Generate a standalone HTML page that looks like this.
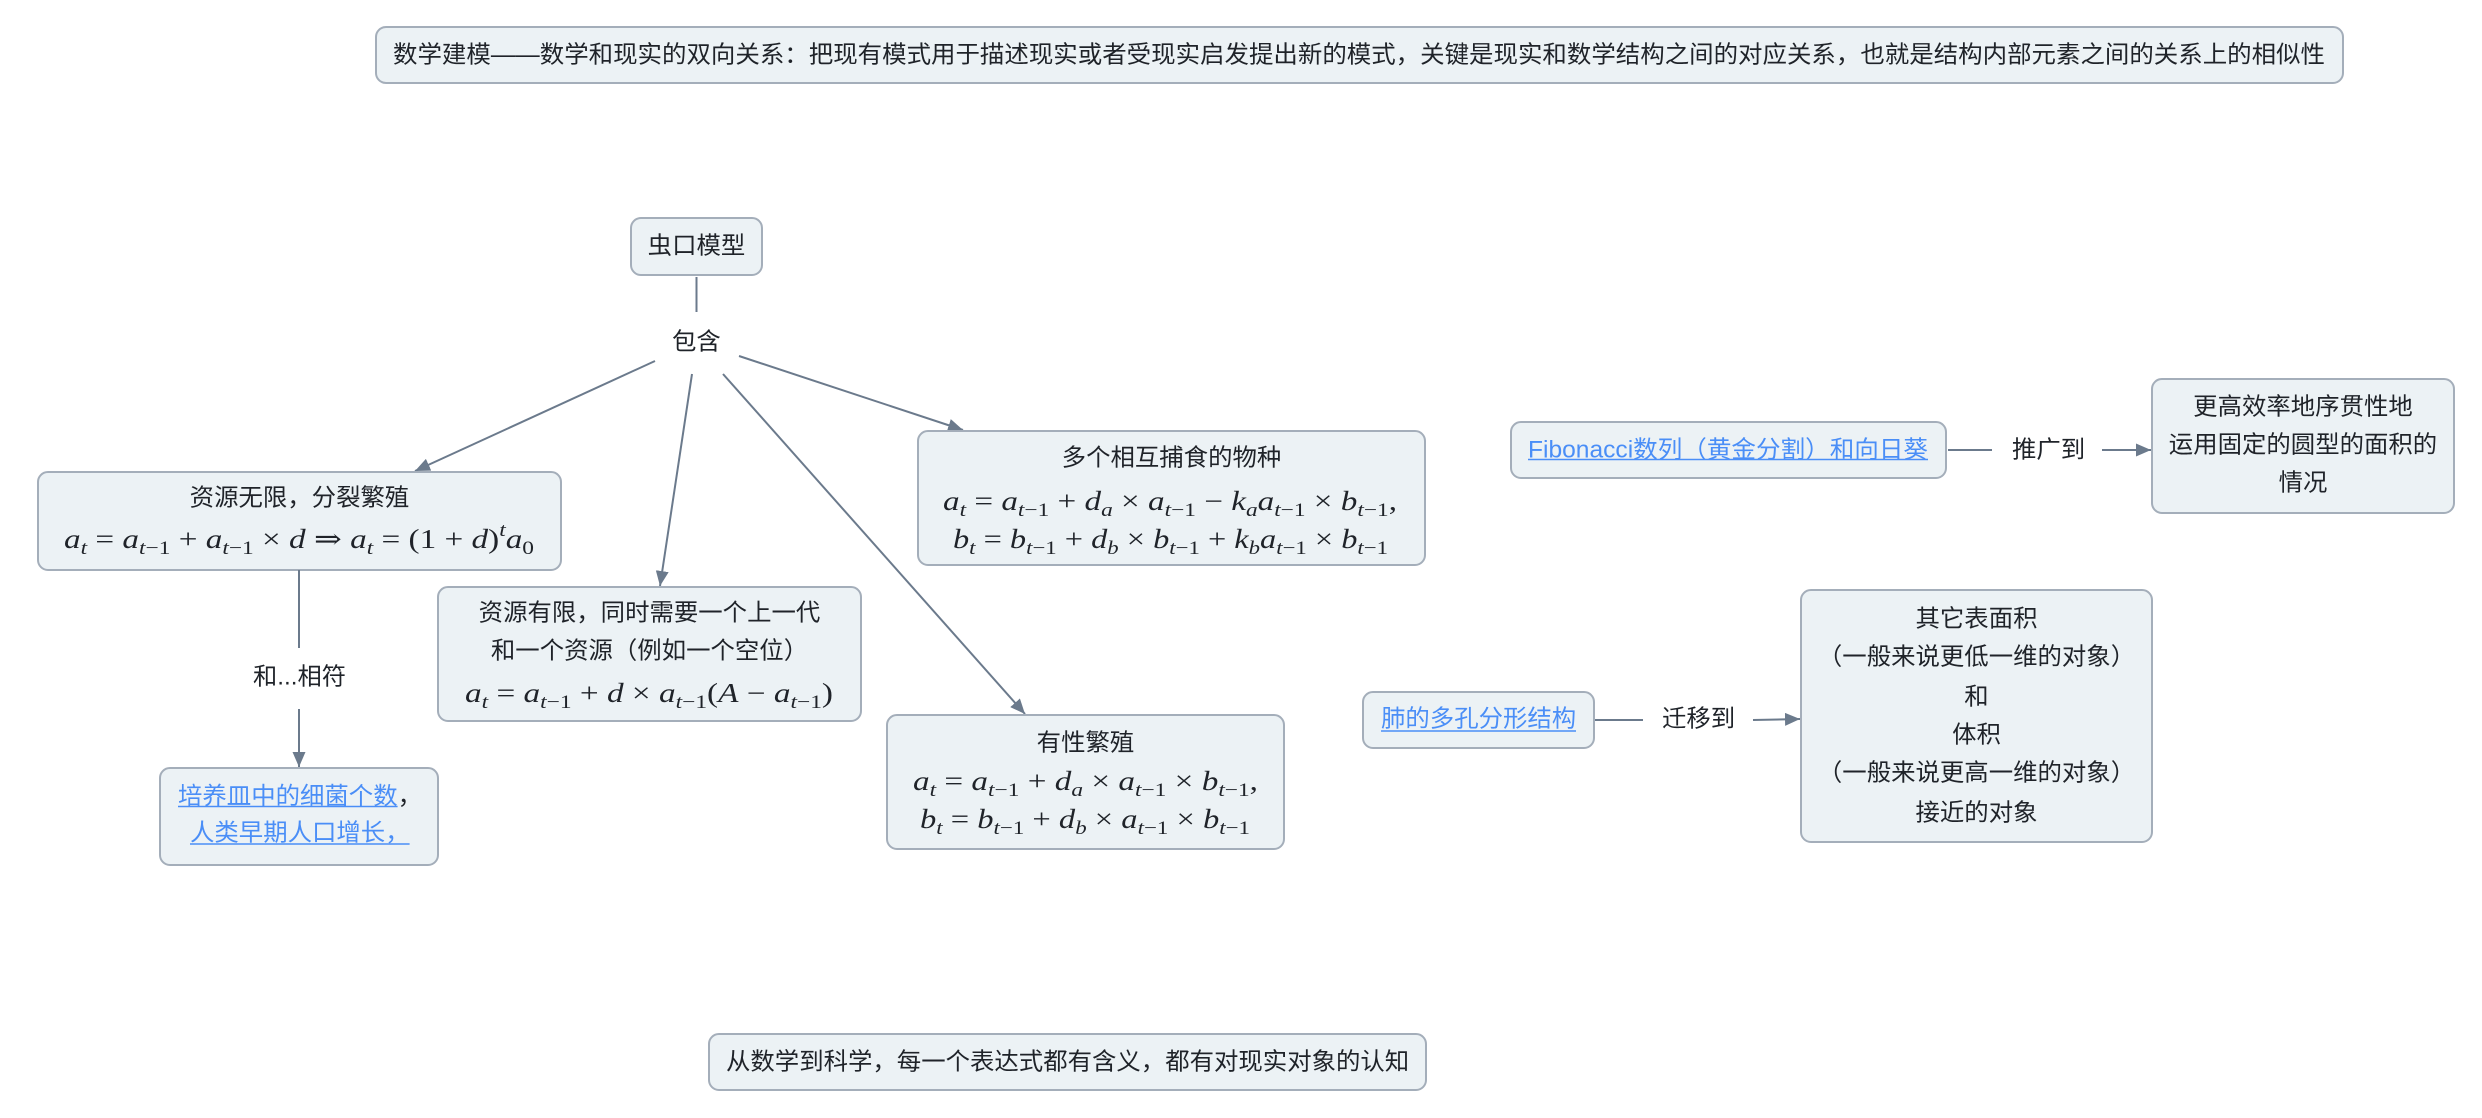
<!DOCTYPE html>
<html>
<head>
<meta charset="utf-8">
<style>
  html,body{margin:0;padding:0;background:#ffffff;}
  svg{display:block;}
  .box{fill:#ecf2f5;stroke:#a4aeba;stroke-width:2;}
  .t{font-family:"Liberation Sans","Noto Sans CJK SC",sans-serif;font-size:24px;fill:#1f2329;dominant-baseline:central;white-space:pre;}
  .lk{fill:#4a8ef7;}
  .m{font-family:"Liberation Serif","DejaVu Serif",serif;font-size:27px;fill:#1f2329;white-space:pre;}
  .i{font-style:italic;}
  .s{font-size:19px;}
  .ln{stroke:#6b7a8c;stroke-width:2;fill:none;}
  .ul{stroke:#4a8ef7;stroke-width:1.6;}
</style>
</head>
<body>
<svg width="2482" height="1118" viewBox="0 0 2482 1118" xmlns="http://www.w3.org/2000/svg">
  <defs>
    <marker id="ah" markerUnits="userSpaceOnUse" markerWidth="16" markerHeight="13" refX="15" refY="6.5" orient="auto">
      <path d="M0,0 L15,6.5 L0,13 z" fill="#6b7a8c"/>
    </marker>
  </defs>

  <!-- Title -->
  <rect class="box" x="376" y="27" width="1967" height="56" rx="10"/>
  <text class="t" x="393" y="55" textLength="1932" lengthAdjust="spacingAndGlyphs">数学建模——数学和现实的双向关系：把现有模式用于描述现实或者受现实启发提出新的模式，关键是现实和数学结构之间的对应关系，也就是结构内部元素之间的关系上的相似性</text>

  <!-- 虫口模型 -->
  <rect class="box" x="631" y="218" width="131" height="57" rx="10"/>
  <text class="t" x="647.7" y="246" textLength="97.6" lengthAdjust="spacingAndGlyphs">虫口模型</text>

  <!-- connector to 包含 -->
  <line class="ln" x1="696.5" y1="277" x2="696.5" y2="312"/>
  <text class="t" x="672" y="342" textLength="48.8" lengthAdjust="spacingAndGlyphs">包含</text>

  <!-- arrows from 包含 -->
  <line class="ln" x1="655" y1="361" x2="415" y2="471" marker-end="url(#ah)"/>
  <line class="ln" x1="692" y1="374" x2="660" y2="586" marker-end="url(#ah)"/>
  <line class="ln" x1="723" y1="374" x2="1025" y2="714" marker-end="url(#ah)"/>
  <line class="ln" x1="739" y1="356" x2="963" y2="430" marker-end="url(#ah)"/>

  <!-- 资源无限 -->
  <rect class="box" x="38" y="472" width="523" height="98" rx="10"/>
  <text class="t" x="189.7" y="498" textLength="219.6" lengthAdjust="spacingAndGlyphs">资源无限，分裂繁殖</text>
  <text class="m" x="64" y="548" textLength="470" lengthAdjust="spacingAndGlyphs"><tspan class="i">a</tspan><tspan dy="6" class="s i">t</tspan><tspan dy="-6"> = </tspan><tspan class="i">a</tspan><tspan dy="6" class="s"><tspan class="i">t</tspan>−1</tspan><tspan dy="-6"> + </tspan><tspan class="i">a</tspan><tspan dy="6" class="s"><tspan class="i">t</tspan>−1</tspan><tspan dy="-6"> × </tspan><tspan class="i">d</tspan><tspan> ⇒ </tspan><tspan class="i">a</tspan><tspan dy="6" class="s i">t</tspan><tspan dy="-6"> = (1 + </tspan><tspan class="i">d</tspan><tspan>)</tspan><tspan dy="-12" class="s i">t</tspan><tspan dy="12" class="i">a</tspan><tspan dy="6" class="s">0</tspan></text>

  <!-- 和...相符 -->
  <line class="ln" x1="299" y1="570" x2="299" y2="648"/>
  <text class="t" x="253" y="677" textLength="93" lengthAdjust="spacingAndGlyphs">和...相符</text>
  <line class="ln" x1="299" y1="709" x2="299" y2="767" marker-end="url(#ah)"/>

  <!-- 培养皿 -->
  <rect class="box" x="160" y="768" width="278" height="97" rx="10"/>
  <text class="t" x="178" y="796" textLength="244" lengthAdjust="spacingAndGlyphs"><tspan class="lk">培养皿中的细菌个数</tspan><tspan>，</tspan></text>
  <line class="ul" x1="178" y1="806.5" x2="397.6" y2="806.5"/>
  <text class="t lk" x="190" y="833" textLength="219.6" lengthAdjust="spacingAndGlyphs">人类早期人口增长，</text>
  <line class="ul" x1="190" y1="844" x2="409.6" y2="844"/>

  <!-- 资源有限 -->
  <rect class="box" x="438" y="587" width="423" height="134" rx="10"/>
  <text class="t" x="478.7" y="613" textLength="341.6" lengthAdjust="spacingAndGlyphs">资源有限，同时需要一个上一代</text>
  <text class="t" x="490.9" y="651" textLength="317.2" lengthAdjust="spacingAndGlyphs">和一个资源（例如一个空位）</text>
  <text class="m" x="465" y="702" textLength="368" lengthAdjust="spacingAndGlyphs"><tspan class="i">a</tspan><tspan dy="6" class="s i">t</tspan><tspan dy="-6"> = </tspan><tspan class="i">a</tspan><tspan dy="6" class="s"><tspan class="i">t</tspan>−1</tspan><tspan dy="-6"> + </tspan><tspan class="i">d</tspan><tspan> × </tspan><tspan class="i">a</tspan><tspan dy="6" class="s"><tspan class="i">t</tspan>−1</tspan><tspan dy="-6">(</tspan><tspan class="i">A</tspan><tspan> − </tspan><tspan class="i">a</tspan><tspan dy="6" class="s"><tspan class="i">t</tspan>−1</tspan><tspan dy="-6">)</tspan></text>

  <!-- 多个相互捕食的物种 -->
  <rect class="box" x="918" y="431" width="507" height="134" rx="10"/>
  <text class="t" x="1061.7" y="458" textLength="219.6" lengthAdjust="spacingAndGlyphs">多个相互捕食的物种</text>
  <text class="m" x="943" y="510" textLength="454" lengthAdjust="spacingAndGlyphs"><tspan class="i">a</tspan><tspan dy="6" class="s i">t</tspan><tspan dy="-6"> = </tspan><tspan class="i">a</tspan><tspan dy="6" class="s"><tspan class="i">t</tspan>−1</tspan><tspan dy="-6"> + </tspan><tspan class="i">d</tspan><tspan dy="6" class="s i">a</tspan><tspan dy="-6"> × </tspan><tspan class="i">a</tspan><tspan dy="6" class="s"><tspan class="i">t</tspan>−1</tspan><tspan dy="-6"> − </tspan><tspan class="i">k</tspan><tspan dy="6" class="s i">a</tspan><tspan dy="-6" class="i">a</tspan><tspan dy="6" class="s"><tspan class="i">t</tspan>−1</tspan><tspan dy="-6"> × </tspan><tspan class="i">b</tspan><tspan dy="6" class="s"><tspan class="i">t</tspan>−1</tspan><tspan dy="-6">,</tspan></text>
  <text class="m" x="953" y="548" textLength="435" lengthAdjust="spacingAndGlyphs"><tspan class="i">b</tspan><tspan dy="6" class="s i">t</tspan><tspan dy="-6"> = </tspan><tspan class="i">b</tspan><tspan dy="6" class="s"><tspan class="i">t</tspan>−1</tspan><tspan dy="-6"> + </tspan><tspan class="i">d</tspan><tspan dy="6" class="s i">b</tspan><tspan dy="-6"> × </tspan><tspan class="i">b</tspan><tspan dy="6" class="s"><tspan class="i">t</tspan>−1</tspan><tspan dy="-6"> + </tspan><tspan class="i">k</tspan><tspan dy="6" class="s i">b</tspan><tspan dy="-6" class="i">a</tspan><tspan dy="6" class="s"><tspan class="i">t</tspan>−1</tspan><tspan dy="-6"> × </tspan><tspan class="i">b</tspan><tspan dy="6" class="s"><tspan class="i">t</tspan>−1</tspan></text>

  <!-- 有性繁殖 -->
  <rect class="box" x="887" y="715" width="397" height="134" rx="10"/>
  <text class="t" x="1036.7" y="743" textLength="97.6" lengthAdjust="spacingAndGlyphs">有性繁殖</text>
  <text class="m" x="913" y="790" textLength="345" lengthAdjust="spacingAndGlyphs"><tspan class="i">a</tspan><tspan dy="6" class="s i">t</tspan><tspan dy="-6"> = </tspan><tspan class="i">a</tspan><tspan dy="6" class="s"><tspan class="i">t</tspan>−1</tspan><tspan dy="-6"> + </tspan><tspan class="i">d</tspan><tspan dy="6" class="s i">a</tspan><tspan dy="-6"> × </tspan><tspan class="i">a</tspan><tspan dy="6" class="s"><tspan class="i">t</tspan>−1</tspan><tspan dy="-6"> × </tspan><tspan class="i">b</tspan><tspan dy="6" class="s"><tspan class="i">t</tspan>−1</tspan><tspan dy="-6">,</tspan></text>
  <text class="m" x="920" y="828" textLength="330" lengthAdjust="spacingAndGlyphs"><tspan class="i">b</tspan><tspan dy="6" class="s i">t</tspan><tspan dy="-6"> = </tspan><tspan class="i">b</tspan><tspan dy="6" class="s"><tspan class="i">t</tspan>−1</tspan><tspan dy="-6"> + </tspan><tspan class="i">d</tspan><tspan dy="6" class="s i">b</tspan><tspan dy="-6"> × </tspan><tspan class="i">a</tspan><tspan dy="6" class="s"><tspan class="i">t</tspan>−1</tspan><tspan dy="-6"> × </tspan><tspan class="i">b</tspan><tspan dy="6" class="s"><tspan class="i">t</tspan>−1</tspan></text>

  <!-- Fibonacci -->
  <rect class="box" x="1511" y="422" width="435" height="56" rx="10"/>
  <text class="t lk" x="1528" y="450" textLength="400" lengthAdjust="spacingAndGlyphs">Fibonacci数列（黄金分割）和向日葵</text>
  <line class="ul" x1="1528" y1="459.5" x2="1928" y2="459.5"/>
  <line class="ln" x1="1948" y1="450" x2="1992" y2="450"/>
  <text class="t" x="2012" y="450" textLength="73.2" lengthAdjust="spacingAndGlyphs">推广到</text>
  <line class="ln" x1="2102" y1="450" x2="2151" y2="450" marker-end="url(#ah)"/>

  <!-- 更高效率 -->
  <rect class="box" x="2152" y="379" width="302" height="134" rx="10"/>
  <text class="t" x="2193.2" y="407" textLength="219.6" lengthAdjust="spacingAndGlyphs">更高效率地序贯性地</text>
  <text class="t" x="2168.8" y="445" textLength="268.4" lengthAdjust="spacingAndGlyphs">运用固定的圆型的面积的</text>
  <text class="t" x="2278.6" y="483" textLength="48.8" lengthAdjust="spacingAndGlyphs">情况</text>

  <!-- 肺的多孔分形结构 -->
  <rect class="box" x="1363" y="692" width="231" height="56" rx="10"/>
  <text class="t lk" x="1381" y="719" textLength="195.2" lengthAdjust="spacingAndGlyphs">肺的多孔分形结构</text>
  <line class="ul" x1="1381" y1="731" x2="1576" y2="731"/>
  <line class="ln" x1="1595" y1="720" x2="1643" y2="720"/>
  <text class="t" x="1662" y="719" textLength="73.2" lengthAdjust="spacingAndGlyphs">迁移到</text>
  <line class="ln" x1="1753" y1="720" x2="1800" y2="719" marker-end="url(#ah)"/>

  <!-- 其它表面积 -->
  <rect class="box" x="1801" y="590" width="351" height="252" rx="10"/>
  <text class="t" x="1915.5" y="619" textLength="122" lengthAdjust="spacingAndGlyphs">其它表面积</text>
  <text class="t" x="1817.9" y="657" textLength="317.2" lengthAdjust="spacingAndGlyphs">（一般来说更低一维的对象）</text>
  <text class="t" x="1964.3" y="697" textLength="24.4" lengthAdjust="spacingAndGlyphs">和</text>
  <text class="t" x="1952.1" y="735" textLength="48.8" lengthAdjust="spacingAndGlyphs">体积</text>
  <text class="t" x="1817.9" y="773" textLength="317.2" lengthAdjust="spacingAndGlyphs">（一般来说更高一维的对象）</text>
  <text class="t" x="1915.5" y="813" textLength="122" lengthAdjust="spacingAndGlyphs">接近的对象</text>

  <!-- bottom -->
  <rect class="box" x="709" y="1034" width="717" height="56" rx="10"/>
  <text class="t" x="726" y="1062" textLength="683.2" lengthAdjust="spacingAndGlyphs">从数学到科学，每一个表达式都有含义，都有对现实对象的认知</text>
</svg>
</body>
</html>
